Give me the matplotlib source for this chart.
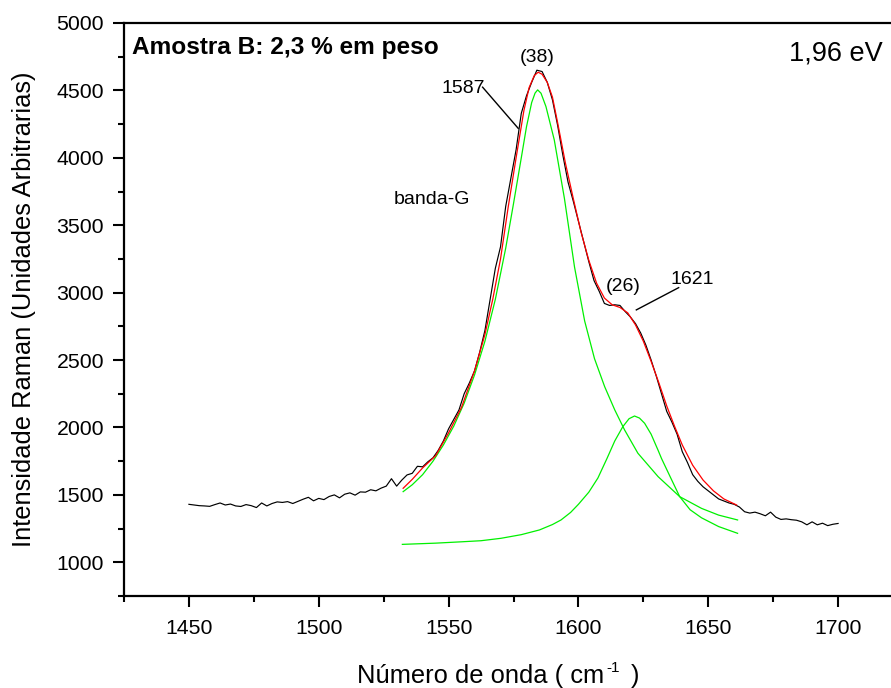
import matplotlib
matplotlib.use('Agg')
import matplotlib.pyplot as plt
from matplotlib.ticker import MultipleLocator
import numpy as np

plt.rcParams['font.family'] = ['Liberation Sans', 'DejaVu Sans']

# ---------------- data ----------------
wn_black = np.arange(1450, 1701, 2)
int_black = [1430, 1425, 1420, 1418, 1415, 1428, 1440, 1425, 1432, 1418,
             1414, 1428, 1420, 1406, 1440, 1418, 1436, 1448, 1444, 1450,
             1436, 1452, 1468, 1482, 1456, 1474, 1465, 1488, 1500, 1478,
             1505, 1515, 1498, 1522, 1520, 1538, 1530, 1550, 1565, 1620,
             1565, 1610, 1648, 1660, 1712, 1708, 1745, 1775, 1830, 1900,
             1990, 2060, 2130, 2250, 2330, 2420, 2560, 2720, 2950, 3180,
             3340, 3640, 3850, 4060, 4330, 4460, 4560, 4650, 4640, 4560,
             4430, 4240, 4020, 3820, 3680, 3530, 3380, 3230, 3090, 3010,
             2920, 2905, 2910, 2905, 2860, 2820, 2770, 2700, 2610, 2500,
             2380, 2250, 2120, 2040, 1950, 1820, 1740, 1650, 1600, 1560,
             1530, 1500, 1470, 1455, 1440, 1430, 1410, 1375, 1365, 1372,
             1360, 1345, 1372, 1335, 1318, 1322, 1316, 1312, 1300, 1278,
             1300, 1278, 1290, 1272, 1282, 1288]

wn_fit = [1532.5, 1536, 1540, 1545, 1550, 1555, 1560, 1564, 1567, 1570,
          1573, 1576, 1579, 1581, 1583, 1584.5, 1586, 1588, 1590, 1592,
          1595, 1598, 1601, 1604, 1607, 1610, 1613, 1616, 1619, 1622,
          1625, 1628, 1631, 1634, 1637, 1640, 1644, 1648, 1652, 1656, 1660.9]
int_fit = [1549, 1615, 1700, 1790, 1960, 2150, 2420, 2690, 2950, 3250,
           3640, 4000, 4350, 4520, 4610, 4635, 4620, 4560, 4450, 4260,
           3960, 3700, 3450, 3240, 3070, 2960, 2910, 2890, 2850, 2760,
           2640, 2490, 2330, 2160, 2010, 1870, 1720, 1610, 1530, 1470, 1425]

wn_g1 = [1532.5, 1536, 1540, 1544, 1548, 1552, 1556, 1560, 1564, 1568,
         1572, 1575, 1578, 1580, 1582, 1583.3, 1584.3, 1585.6, 1587.5, 1590.7,
         1594.6, 1598.5, 1602.4, 1606.2, 1610.1, 1614, 1617.8, 1622.9, 1630.7,
         1639, 1647.4, 1654, 1661.3]
int_g1 = [1524, 1575, 1650, 1750, 1870, 2010, 2180, 2390, 2640, 2950,
          3330, 3660, 4000, 4230, 4410, 4480, 4504, 4479, 4380, 4133,
          3700, 3190, 2790, 2510, 2303, 2130, 1981, 1809, 1635,
          1487, 1400, 1350, 1314]

wn_g2 = [1532.2, 1545, 1555, 1562.5, 1570.2, 1578, 1585, 1590, 1593.3, 1597,
         1600, 1604, 1607.5, 1611, 1614, 1617.1, 1619.5, 1621.6, 1623.5, 1625.5,
         1628, 1630.7, 1632, 1635.2, 1639, 1643, 1647.4, 1654, 1661.3]
int_g2 = [1133, 1142, 1152, 1160, 1178, 1205, 1240, 1280, 1314, 1370,
          1430, 1520, 1625, 1770, 1900, 2006, 2065, 2085, 2070, 2031,
          1950, 1830, 1770, 1640, 1487, 1390, 1330, 1265, 1215]

x_ticks = [1450, 1500, 1550, 1600, 1650, 1700]
y_ticks = [1000, 1500, 2000, 2500, 3000, 3500, 4000, 4500, 5000]

# ---------------- figure ----------------
W, H = 891, 688
fig = plt.figure(figsize=(W / 100, H / 100), dpi=100)
ax = fig.add_axes([124 / W, (H - 596) / H, (903 - 124) / W, (596 - 23) / H])
ax.set_xlim(1425, 1725)
ax.set_ylim(750, 5000)

ax.plot(wn_black, int_black, color='black', lw=0.85)
ax.plot(wn_g1, int_g1, color='#00f000', lw=0.9)
ax.plot(wn_g2, int_g2, color='#00f000', lw=0.9)
ax.plot(wn_fit, int_fit, color='#ff0000', lw=0.9)

ax.set_xticks(x_ticks)
ax.set_yticks(y_ticks)
ax.xaxis.set_minor_locator(MultipleLocator(25))
ax.yaxis.set_minor_locator(MultipleLocator(250))
ax.tick_params(which='major', direction='out', length=7.9, width=1.5,
               labelsize=15.3, top=False, right=False)
ax.tick_params(which='minor', direction='out', length=4.3, width=1.5,
               top=False, right=False)
ax.tick_params(axis='x', which='major', pad=8.3)
ax.tick_params(axis='y', which='major', pad=6.5)
for s in ['left', 'bottom', 'top']:
    ax.spines[s].set_linewidth(1.6)
ax.spines['right'].set_visible(False)

# annotations
ax.text(1428, 4769, 'Amostra B: 2,3 % em peso', fontsize=17.6,
        fontweight='bold', ha='left', va='baseline')
ax.text(1681.1, 4719, '1,96 eV', fontsize=19.5, ha='left', va='baseline')
ax.text(1584, 4714, '(38)', fontsize=14, ha='center', va='baseline')
ax.text(1555.7, 4479, '1587', fontsize=14, ha='center', va='baseline')
ax.plot([1563.1, 1576.8], [4524, 4219], color='black', lw=1.0)
ax.text(1558.3, 3658, 'banda-G', fontsize=14, ha='right', va='baseline')
ax.text(1617.1, 3013, '(26)', fontsize=14, ha='center', va='baseline')
ax.text(1643.9, 3062, '1621', fontsize=14, ha='center', va='baseline')
ax.plot([1638.6, 1622.3], [3037, 2872], color='black', lw=1.0)

# axis labels
fig.text(24 / W, 1 - 309.5 / H, 'Intensidade Raman (Unidades Arbitrarias)',
         rotation=90, fontsize=18.4, ha='center', va='center')

fig.canvas.draw()
r = fig.canvas.get_renderer()
t1 = fig.text(356.7 / W, (H - 683.3) / H, 'Número de onda ( cm',
              fontsize=18.4, ha='left', va='baseline')
bb = t1.get_window_extent(r)
t2 = fig.text((bb.x1 + 3) / W, (H - 671.7) / H, '-1', fontsize=11,
              ha='left', va='baseline')
bb2 = t2.get_window_extent(r)
fig.text((bb2.x1 + 11) / W, (H - 683.3) / H, ')', fontsize=18.4,
         ha='left', va='baseline')

fig.savefig('out.png', dpi=100)
